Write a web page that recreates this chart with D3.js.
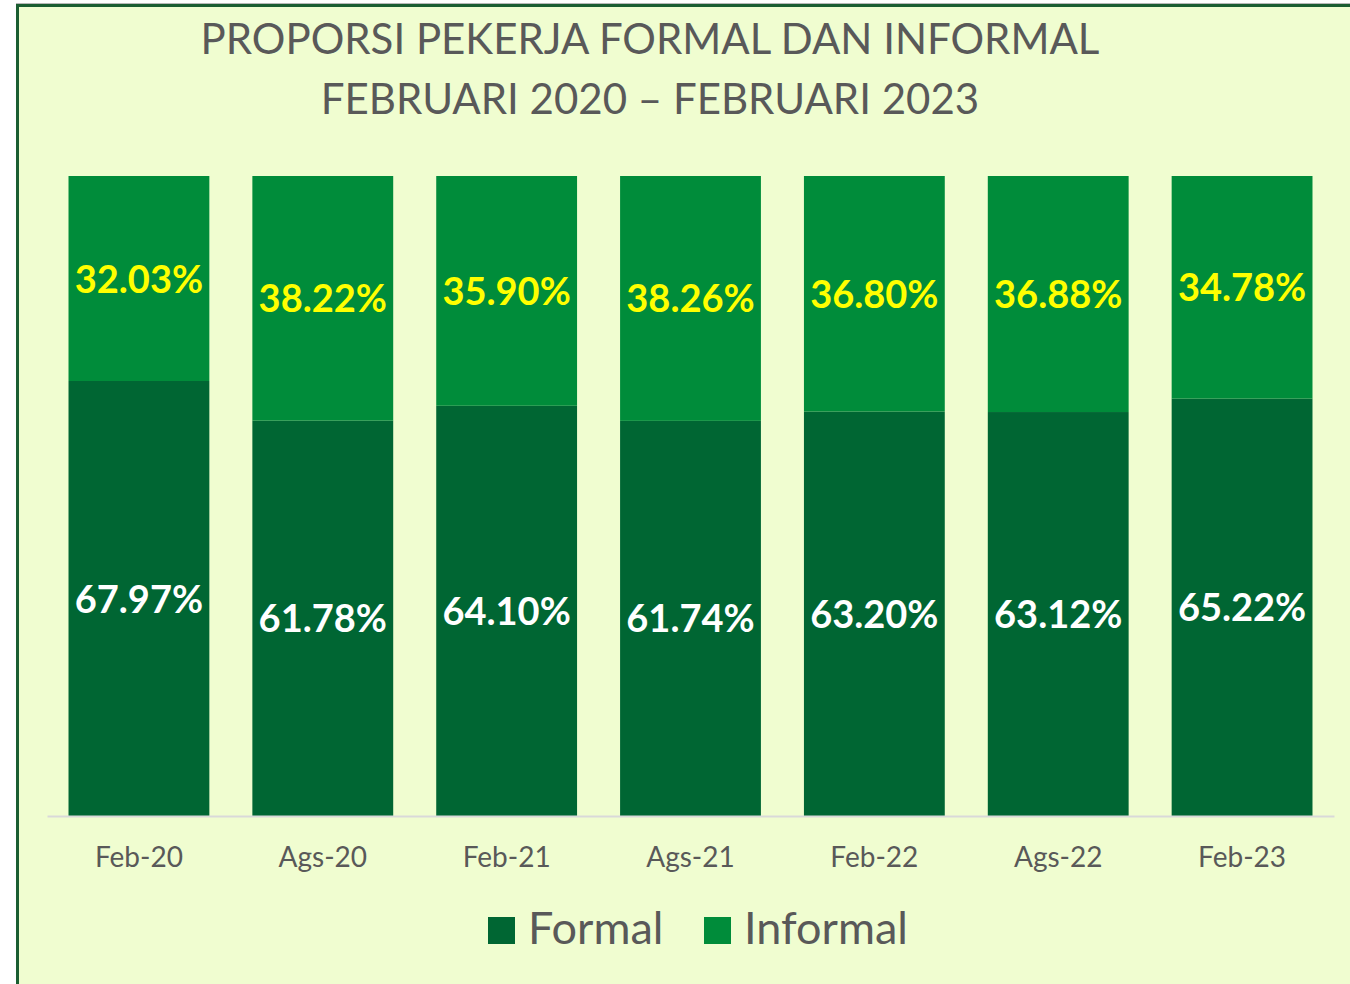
<!DOCTYPE html>
<html>
<head>
<meta charset="utf-8">
<script src="https://cdn.jsdelivr.net/npm/d3@7"></script>
<style>
  body { margin: 0; background: #ffffff; }
  svg { display: block; }
</style>
</head>
<body>
<div id="chart"></div>
<script>
var periods = ["Feb-20", "Ags-20", "Feb-21", "Ags-21", "Feb-22", "Ags-22", "Feb-23"];
var formal = [67.97, 61.78, 64.10, 61.74, 63.20, 63.12, 65.22];
var informal = [32.03, 38.22, 35.90, 38.26, 36.80, 36.88, 34.78];
var seriesNames = ["Formal", "Informal"];
var seriesColors = ["#006633", "#008C3A"];
var labelColors = ["#ffffff", "#ffff00"];

var W = 1350, H = 984;
var margin = { top: 176, right: 16, bottom: 168, left: 47 },
    width = W - margin.left - margin.right,
    height = H - margin.top - margin.bottom;

var svg = d3.select("#chart").append("svg")
    .attr("width", W)
    .attr("height", H);

// chart frame
svg.append("rect")
    .attr("x", 17.5).attr("y", 5.5)
    .attr("width", W + 20).attr("height", H + 20)
    .attr("fill", "#F0FDD0")
    .attr("stroke", "#1B5E32")
    .attr("stroke-width", 3);
svg.append("line")
    .attr("x1", 16).attr("x2", W).attr("y1", 3.5).attr("y2", 3.5)
    .attr("stroke", "#b8b8b8").attr("stroke-width", 1);

// title
var title = svg.append("text")
    .attr("x", 650)
    .attr("text-anchor", "middle")
    .style("font-family", "Lato, 'Open Sans', sans-serif")
    .style("font-size", "42px")
    .style("fill", "#595959");
title.append("tspan").attr("x", 650).attr("y", 54).text("PROPORSI PEKERJA FORMAL DAN INFORMAL");
title.append("tspan").attr("x", 650).attr("y", 114).text("FEBRUARI 2020 \u2013 FEBRUARI 2023");

var g = svg.append("g")
    .attr("transform", "translate(" + margin.left + "," + margin.top + ")");

var x = d3.scaleBand()
    .domain(periods)
    .range([0, width])
    .paddingInner(0.234)
    .paddingOuter(0.117);

var y = d3.scaleLinear()
    .domain([0, 100])
    .range([height, 0]);

var rows = periods.map(function (p, i) {
    return { period: p, Formal: formal[i], Informal: informal[i] };
});
var stacked = d3.stack().keys(seriesNames)(rows);

var layers = g.selectAll(".layer")
    .data(stacked)
    .enter().append("g")
    .attr("class", "layer")
    .attr("fill", function (d, i) { return seriesColors[i]; });

layers.selectAll("rect")
    .data(function (d) { return d; })
    .enter().append("rect")
    .attr("x", function (d) { return x(d.data.period); })
    .attr("width", x.bandwidth())
    .attr("y", function (d) { return y(d[1]); })
    .attr("height", function (d) { return y(d[0]) - y(d[1]); });

// x axis
var xAxis = d3.axisBottom(x).tickSize(0).tickPadding(31);
var ax = g.append("g")
    .attr("transform", "translate(0," + height + ")")
    .call(xAxis);
ax.select(".domain").attr("stroke", "#d9d9d9").attr("stroke-width", 2);
ax.selectAll("text")
    .style("font-family", "Lato, 'Open Sans', sans-serif")
    .style("font-size", "28px")
    .style("fill", "#595959");

// data labels
layers.each(function (layer, li) {
    d3.select(this).selectAll("text.lbl")
        .data(layer)
        .enter().append("text")
        .attr("class", "lbl")
        .attr("x", function (d) { return x(d.data.period) + x.bandwidth() / 2; })
        .attr("y", function (d) { return (y(d[0]) + y(d[1])) / 2; })
        .attr("dy", "0.37em")
        .attr("text-anchor", "middle")
        .style("font-family", "Lato, 'Open Sans', sans-serif")
        .style("font-weight", "bold")
        .style("font-size", "38px")
        .style("fill", labelColors[li])
        .text(function (d) { return (d[1] - d[0]).toFixed(2) + "%"; });
});

// legend
var legendX = [488, 704];
var legend = svg.selectAll(".legend")
    .data(seriesNames)
    .enter().append("g")
    .attr("class", "legend")
    .attr("transform", function (d, i) { return "translate(" + legendX[i] + ",917)"; });
legend.append("rect")
    .attr("width", 27).attr("height", 27)
    .attr("fill", function (d, i) { return seriesColors[i]; });
legend.append("text")
    .attr("x", 40).attr("y", 27)
    .style("font-family", "Lato, 'Open Sans', sans-serif")
    .style("font-size", "45px")
    .style("fill", "#595959")
    .text(function (d) { return d; });
</script>
</body>
</html>
